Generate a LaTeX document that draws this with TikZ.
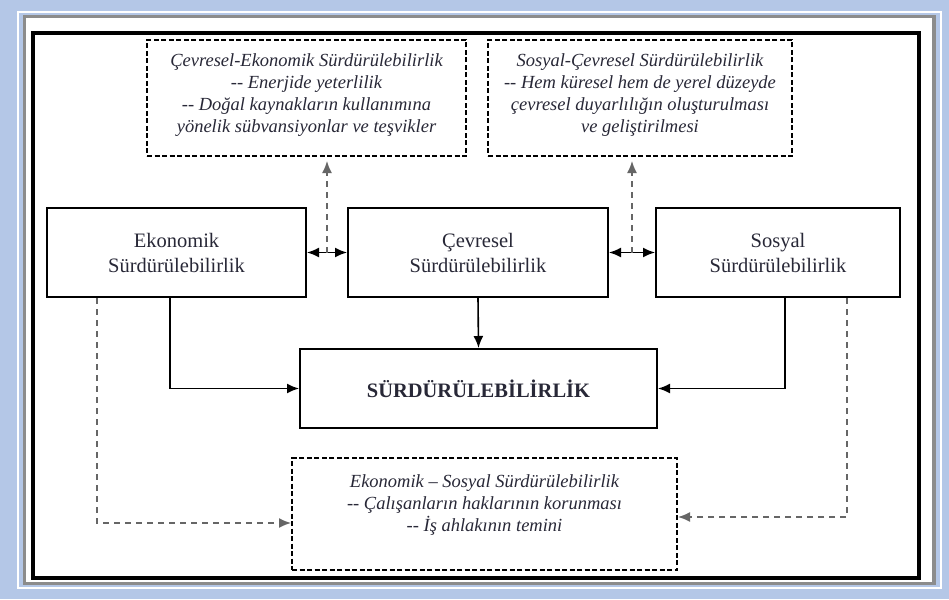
\documentclass[tikz,border=0pt]{standalone}
\usepackage{fontspec}
\setmainfont{Liberation Serif}
\usetikzlibrary{positioning,arrows.meta}
\definecolor{zemin}{RGB}{180,199,231}
\definecolor{yazi}{RGB}{40,40,55}
\tikzstyle{kutu} = [rectangle, draw=black, line width=2pt, text=yazi, align=center, font=\fontsize{20.5}{25}\selectfont]
\tikzstyle{kkutu} = [rectangle, draw=black, line width=2pt, dash pattern=on 5pt off 2.5pt, text=yazi, align=center, font=\fontsize{18.5}{22}\selectfont\itshape]
\tikzstyle{ok} = [line width=1.6pt, -{Latex[length=12pt,width=10pt]}]
\tikzstyle{cok} = [line width=1.6pt, {Latex[length=12pt,width=10pt]}-{Latex[length=12pt,width=10pt]}]
\tikzstyle{kok} = [ok, black!60, dash pattern=on 6pt off 5pt]
\newcommand{\altbos}[1]{\rule[-#1]{0pt}{0pt}}

\begin{document}
\begin{tikzpicture}[x=1pt,y=-1pt,node distance=42pt]
			\fill[zemin] (0,0) rectangle (949,599);
			\useasboundingbox (0,0) rectangle (949,599);
			% cerceve
			\draw[white,line width=2pt] (18,12) rectangle (941,588);
			\fill[black!45] (23,15) rectangle (936,585);
			\fill[white] (26,18) rectangle (932,582);
			\draw[line width=3.5pt] (33,33) rectangle (919,578);
			% ust kutular
			\node[kkutu,minimum width=319pt,minimum height=116pt](ce) at (306.5,98){Çevresel-Ekonomik Sürdürülebilirlik\\ -{}- Enerjide yeterlilik\\ -{}- Doğal kaynakların kullanımına\\ yönelik sübvansiyonlar ve teşvikler\altbos{9pt}};
			\node[kkutu,minimum width=304pt,minimum height=116pt](sc) at (640,98){Sosyal-Çevresel Sürdürülebilirlik\\ -{}- Hem küresel hem de yerel düzeyde\\ çevresel duyarlılığın oluşturulması\\ ve geliştirilmesi\altbos{9pt}};
			% orta kutular
			\node[kutu,minimum width=259pt,minimum height=89pt](eko) at (176.5,252.5){Ekonomik\\Sürdürülebilirlik};
			\node[kutu,minimum width=260pt,minimum height=89pt,right=40pt of eko](cev){Çevresel\\Sürdürülebilirlik};
			\node[kutu,minimum width=244pt,minimum height=89pt,right=46pt of cev](sos){Sosyal\\Sürdürülebilirlik};
			\node[kutu,font=\fontsize{20.5}{25}\selectfont\bfseries,minimum width=357pt,minimum height=79pt](surd) at (478.5,388.5){SÜRDÜRÜLEBİLİRLİK};
			\node[kkutu,minimum width=385pt,minimum height=112pt](es) at (484.5,514){Ekonomik – Sosyal Sürdürülebilirlik\\ -{}- Çalışanların haklarının korunması\\ -{}- İş ahlakının temini\altbos{22pt}};
			% baglantilar
			\draw[cok] (eko.east) -- coordinate(m1) (cev.west);
			\draw[cok] (cev.east) -- coordinate(m2) (sos.west);
			\draw[kok,shorten >=4pt] (m1) -- (m1 |- ce.south);
			\draw[kok,shorten >=4pt] (m2) -- (m2 |- sc.south);
			\draw[ok] (cev.south) -- (surd.north);
			\draw[ok] ([xshift=-6.5pt]eko.south) |- (surd.west);
			\draw[ok] ([xshift=7pt]sos.south) |- (surd.east);
			\draw[kok] ([xshift=-79.5pt]eko.south) |- ([yshift=-9pt]es.west);
			\draw[kok] ([xshift=69pt]sos.south) |- ([yshift=-3pt]es.east);
		\end{tikzpicture}
\end{document}
